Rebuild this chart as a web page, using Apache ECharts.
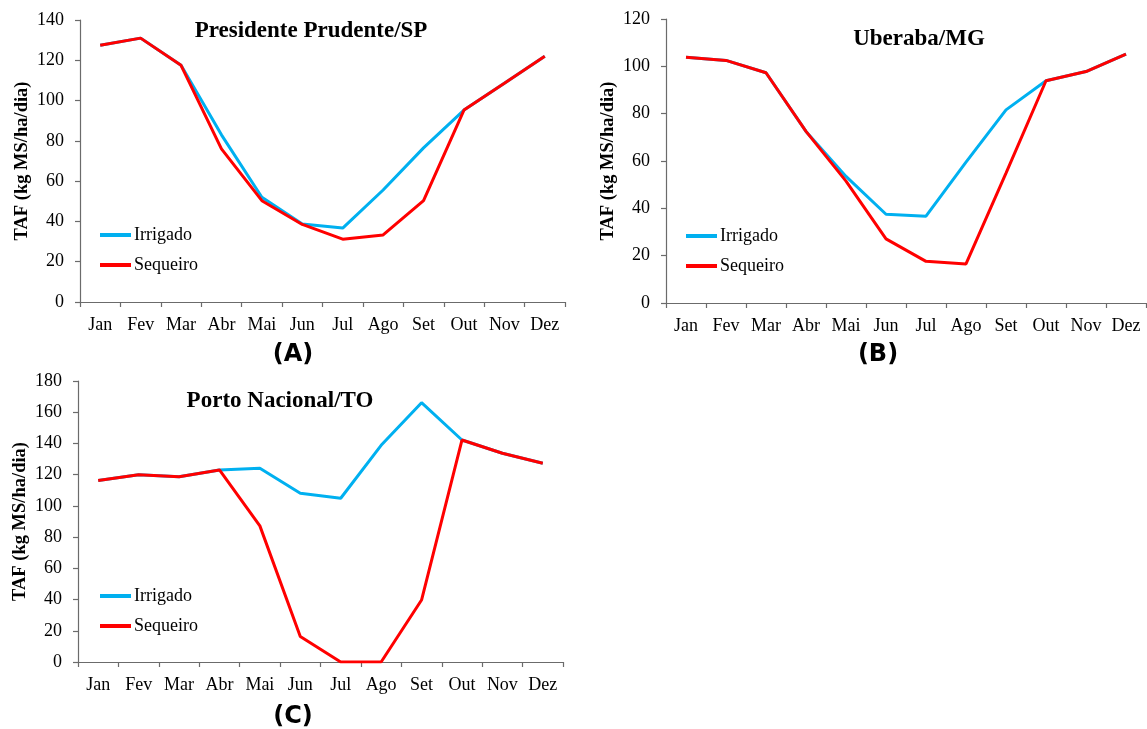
<!DOCTYPE html>
<html>
<head>
<meta charset="utf-8">
<script src="https://cdn.jsdelivr.net/npm/echarts@6/dist/echarts.min.js"></script>
<style>
html,body{margin:0;padding:0;background:#fff;}
#chart{width:1147px;height:729px;}
</style>
</head>
<body>
<div id="chart"></div>
<script>
const months = ['Jan','Fev','Mar','Abr','Mai','Jun','Jul','Ago','Set','Out','Nov','Dez'];
const seriesNames = ['Irrigado','Sequeiro'];
const stationTitles = ['Presidente Prudente/SP','Uberaba/MG','Porto Nacional/TO'];
const panelLabels = ['(A)','(B)','(C)'];
const yAxisName = 'TAF (kg MS/ha/dia)';
const yMax = [140, 120, 180];

const ppIrrigado = [127.5, 131, 117.5, 83, 52, 38.7, 36.7, 55.6, 76.5, 95.3, 108.6, 122];
const ppSequeiro = [127.5, 131, 117.5, 76, 50.3, 38.5, 31.2, 33.3, 50.3, 95.3, 108.6, 122];
const ubIrrigado = [103.8, 102.5, 97.3, 72.5, 53.5, 37.5, 36.7, 59.5, 81.6, 93.9, 97.8, 105.2];
const ubSequeiro = [103.8, 102.5, 97.3, 72.5, 51.5, 27.1, 17.6, 16.5, 54.9, 93.9, 97.8, 105.2];
const pnIrrigado = [116.2, 119.9, 118.6, 123, 124.1, 108.1, 104.9, 138.8, 166.1, 142.2, 133.7, 127.3];
const pnSequeiro = [116.2, 119.9, 118.6, 123, 87.2, 16.4, 0, 0, 39.7, 142.2, 133.7, 127.3];

const irrigado = [ppIrrigado, ubIrrigado, pnIrrigado];
const sequeiro = [ppSequeiro, ubSequeiro, pnSequeiro];

const serif = "'Liberation Serif','Times New Roman',serif";
const axisColor = '#6b6b6b';
const blue = '#00B0F0';
const red = '#FF0000';

const grids = [
  {left: 80, top: 20, width: 485, height: 282},
  {left: 666, top: 19, width: 480, height: 284},
  {left: 78, top: 381, width: 485, height: 281}
];
const titlePos = [
  {x: 311, y: 20}, {x: 919, y: 28}, {x: 280, y: 390}
];
const panelPos = [
  {x: 293, y: 343}, {x: 878, y: 343}, {x: 293, y: 705}
];
const legendPos = [
  {x: 100, y: 226}, {x: 686, y: 227}, {x: 100, y: 587}
];

const chart = echarts.init(document.getElementById('chart'), null, {renderer: 'canvas'});

const option = {
  animation: false,
  backgroundColor: '#fff',
  title: [],
  legend: [],
  grid: grids,
  xAxis: [],
  yAxis: [],
  series: []
};

for (let i = 0; i < 3; i++) {
  option.title.push({
    text: stationTitles[i], left: titlePos[i].x, top: titlePos[i].y, textAlign: 'center', padding: 0,
    textStyle: {fontFamily: serif, fontWeight: 'bold', fontSize: 23, color: '#000'}
  });
  option.title.push({
    text: panelLabels[i], left: panelPos[i].x, top: panelPos[i].y, textAlign: 'center', padding: 0,
    textStyle: {fontFamily: "'DejaVu Sans',Verdana,sans-serif", fontWeight: 'bold', fontSize: 24, color: '#000'}
  });
  option.legend.push({
    data: seriesNames, orient: 'vertical', left: legendPos[i].x, top: legendPos[i].y,
    icon: 'rect', itemWidth: 31, itemHeight: 4, itemGap: 12, padding: 0,
    textStyle: {fontFamily: serif, fontSize: 18, color: '#000', padding: [0,0,0,-2]}
  });
  option.xAxis.push({
    type: 'category', gridIndex: i, data: months, boundaryGap: true,
    axisLine: {lineStyle: {color: axisColor, width: 1.2}},
    axisTick: {show: true, length: 5, lineStyle: {color: axisColor, width: 1.2}},
    axisLabel: {fontFamily: serif, fontSize: 18, color: '#000', margin: 14, interval: 0},
    splitLine: {show: false}
  });
  option.yAxis.push({
    type: 'value', gridIndex: i, min: 0, max: yMax[i], interval: 20,
    name: yAxisName, nameLocation: 'middle', nameRotate: 90, nameGap: 48,
    nameTextStyle: {fontFamily: serif, fontWeight: 'bold', fontSize: 18.5, color: '#000'},
    axisLine: {show: true, lineStyle: {color: axisColor, width: 1.2}},
    axisTick: {show: true, length: 5, lineStyle: {color: axisColor, width: 1.2}},
    axisLabel: {fontFamily: serif, fontSize: 18, color: '#000', margin: 16},
    splitLine: {show: false}
  });
  option.series.push({
    name: seriesNames[0], type: 'line', xAxisIndex: i, yAxisIndex: i,
    data: irrigado[i], symbol: 'none', color: blue,
    lineStyle: {color: blue, width: 3}, z: 2
  });
  option.series.push({
    name: seriesNames[1], type: 'line', xAxisIndex: i, yAxisIndex: i,
    data: sequeiro[i], symbol: 'none', color: red,
    lineStyle: {color: red, width: 3}, z: 3
  });
}

chart.setOption(option);
</script>
</body>
</html>
